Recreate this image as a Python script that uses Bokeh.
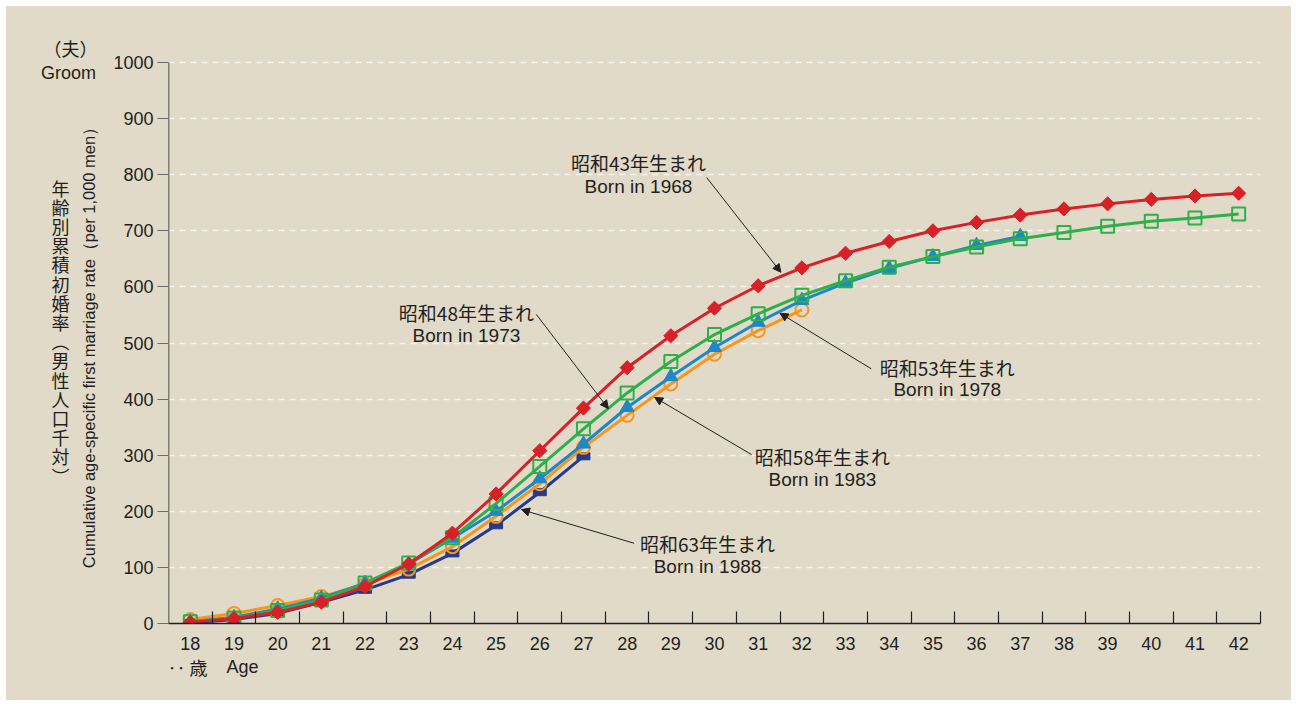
import math
from bokeh.plotting import figure
from bokeh.layouts import row, column
from bokeh.models import Range1d, FixedTicker, Label, Arrow, NormalHead, ColumnDataSource, Spacer
from bokeh.embed import file_html
from bokeh.resources import INLINE

# ---------------- data ----------------
ages = list(range(18, 43))
born_1968 = [2, 9, 20, 38, 66, 106, 161, 231, 308, 384, 456, 513, 562, 602, 634,
             660, 681, 700, 715, 728, 739, 748, 756, 762, 767]
born_1973 = [3, 10, 23, 42, 72, 108, 153, 214, 280, 347, 411, 467, 515, 552, 585,
             611, 635, 654, 671, 686, 697, 708, 717, 723, 730]
born_1978 = [3, 11, 26, 45, 72, 106, 152, 200, 258, 320, 385, 440, 492, 537, 576,
             607, 633, 654, 674, 690]
born_1983 = [7, 18, 32, 48, 70, 97, 137, 191, 249, 314, 371, 427, 480, 522, 559]
born_1988 = [1, 7, 18, 38, 60, 87, 125, 175, 234, 298]

y_ticks = list(range(0, 1001, 100))
x_tick_labels = [str(a) for a in ages]

BG = "#E1DAC8"
INK = "#231F20"
JP = "Noto Sans CJK JP"
EN = "Liberation Sans"

# ---------------- layout sizes (page px) ----------------
TOP_PAD = 24          # canvas top -> frame top
FRAME_H = 593         # frame spans 1000 units over 561 px, plus headroom
BOT_PAD = 32
MAIN_H = TOP_PAD + FRAME_H + BOT_PAD
LEFT_W = 104
Y_TOP = 1000 * FRAME_H / 561.0

p = figure(width=1180, height=MAIN_H, frame_width=1092, frame_height=FRAME_H,
           min_border_left=57, min_border_top=TOP_PAD, min_border_right=31, min_border_bottom=BOT_PAD,
           x_range=Range1d(17.5, 42.5), y_range=Range1d(0, Y_TOP),
           output_backend="svg", toolbar_location=None)
p.background_fill_color = None
p.border_fill_color = BG
p.outline_line_color = None

p.xaxis.ticker = FixedTicker(ticks=ages, minor_ticks=[a + 0.5 for a in ages])
p.xaxis.major_label_overrides = {a: s for a, s in zip(ages, x_tick_labels)}
p.xaxis.major_tick_in = 0
p.xaxis.major_tick_out = 0
p.xaxis.minor_tick_in = 12
p.xaxis.minor_tick_out = 0
p.xaxis.minor_tick_line_color = INK
p.xaxis.minor_tick_line_width = 1.2
p.xaxis.axis_line_color = INK
p.xaxis.axis_line_width = 1.5
p.xaxis.major_label_text_font = EN
p.xaxis.major_label_text_font_size = "18px"
p.xaxis.major_label_text_color = INK
p.xaxis.major_label_standoff = 13

p.yaxis.ticker = FixedTicker(ticks=y_ticks)
p.yaxis.major_tick_in = 0
p.yaxis.major_tick_out = 11
p.yaxis.major_tick_line_color = "#6b6b6b"
p.yaxis.major_tick_line_width = 1.2
p.yaxis.minor_tick_line_color = None
p.yaxis.axis_line_color = None
p.yaxis.major_label_text_font = EN
p.yaxis.major_label_text_font_size = "18px"
p.yaxis.major_label_text_color = INK
p.yaxis.major_label_standoff = 4

p.xgrid.grid_line_color = None
p.ygrid.ticker = FixedTicker(ticks=y_ticks[1:])
p.ygrid.grid_line_color = "#F7F4EC"
p.ygrid.grid_line_dash = "6 5"
p.ygrid.grid_line_width = 1.5

# y axis line: only from 0 to the top tick
p.segment(x0=[17.5], y0=[y_ticks[0]], x1=[17.5], y1=[y_ticks[-1]], line_color=INK, line_width=1.5)

NAVY = "#27398D"
ORANGE = "#F7961D"
BLUE = "#1E87CA"
GREEN = "#2DAF4A"
RED = "#D91F27"

def src(vals):
    return ColumnDataSource(dict(x=ages[:len(vals)], y=vals))

s88 = src(born_1988)
p.line("x", "y", source=s88, line_color=NAVY, line_width=3)
p.rect("x", "y", source=s88, width=13, height=7, width_units="screen", height_units="screen",
       fill_color=NAVY, line_color=NAVY)

s83 = src(born_1983)
p.line("x", "y", source=s83, line_color=ORANGE, line_width=3)
p.scatter("x", "y", source=s83, marker="circle", size=13, fill_color=None,
          line_color=ORANGE, line_width=2)

s78 = src(born_1978)
p.line("x", "y", source=s78, line_color=BLUE, line_width=3)
p.scatter("x", "y", source=s78, marker="triangle", size=14, fill_color=BLUE,
          line_color=BLUE, line_width=1)

s73 = src(born_1973)
p.line("x", "y", source=s73, line_color=GREEN, line_width=3)
p.scatter("x", "y", source=s73, marker="square", size=13, fill_color=None,
          line_color=GREEN, line_width=2)

s68 = src(born_1968)
p.line("x", "y", source=s68, line_color=RED, line_width=3)
p.scatter("x", "y", source=s68, marker="square", size=10, angle=math.pi / 4,
          fill_color=RED, line_color=RED, line_width=1)

def lab(fig, x, y, text, font, size="19px", align="center", angle=0.0):
    fig.add_layout(Label(x=x, y=y, text=text, text_font=font, text_font_size=size,
                         text_color=INK, text_align=align, text_baseline="middle",
                         angle=angle))

def arrow(x0, y0, x1, y1):
    p.add_layout(Arrow(end=NormalHead(size=8, fill_color=INK, line_color=INK, line_width=1),
                       x_start=x0, y_start=y0, x_end=x1, y_end=y1,
                       line_color=INK, line_width=1))

notes = [
    (28.26, 822, 779, "昭和43年生まれ", "Born in 1968", 29.82, 795, 31.52, 626),
    (24.32, 554, 513, "昭和48年生まれ", "Born in 1973", 25.92, 551, 27.57, 383),
    (35.33, 457, 417, "昭和53年生まれ", "Born in 1978", 33.59, 454, 31.50, 553),
    (32.47, 298, 256, "昭和58年生まれ", "Born in 1983", 30.85, 301, 28.63, 403),
    (29.84, 143, 102, "昭和63年生まれ", "Born in 1988", 28.16, 143, 25.58, 203),
]
for tx, jy, ey, jt, et, ax0, ay0, ax1, ay1 in notes:
    lab(p, tx, jy, jt, JP)
    lab(p, tx, ey, et, EN)
    arrow(ax0, ay0, ax1, ay1)

# ---------------- left title strip (coordinates = page px) ----------------
FRAME_TOP_PAGE = 6 + TOP_PAD
FRAME_BOT_PAGE = FRAME_TOP_PAGE + FRAME_H
left = figure(width=LEFT_W, height=MAIN_H, frame_width=LEFT_W, frame_height=FRAME_H,
              min_border_left=0, min_border_right=0, min_border_top=TOP_PAD, min_border_bottom=BOT_PAD,
              x_range=Range1d(6, 6 + LEFT_W), y_range=Range1d(FRAME_BOT_PAGE, FRAME_TOP_PAGE),
              x_axis_type=None, y_axis_type=None,
              output_backend="svg", toolbar_location=None)
left.background_fill_color = None
left.border_fill_color = BG
left.outline_line_color = None
left.grid.grid_line_color = None

lab(left, 70, 47, "（夫）", JP, size="18px")
lab(left, 68, 72, "Groom", EN, size="18px")
vertical_title = "年齢別累積初婚率︵男性人口千対︶"
for i, ch in enumerate(vertical_title):
    lab(left, 60, 187 + i * 19.2, ch, JP, size="18px")
lab(left, 88, 343, "Cumulative age-specific first marriage rate（per 1,000 men）", EN,
    size="16.5px", angle=math.pi / 2)

# ---------------- bottom title strip (coordinates = page px) ----------------
BOT_W = LEFT_W + 1180
BOT_H = 45
B_TOP = 6 + MAIN_H
bottom = figure(width=BOT_W, height=BOT_H, x_range=Range1d(6, 6 + BOT_W),
                y_range=Range1d(B_TOP + BOT_H, B_TOP),
                min_border=0, x_axis_type=None, y_axis_type=None,
                output_backend="svg", toolbar_location=None)
bottom.background_fill_color = None
bottom.border_fill_color = BG
bottom.outline_line_color = None
bottom.grid.grid_line_color = None
lab(bottom, 176, 666, "‥", JP, size="18px")
lab(bottom, 198, 666, "歳", JP, size="18px")
lab(bottom, 226, 666, "Age", EN, size="18px", align="left")

inner = column(row(left, p), bottom)
inner.styles = {"background-color": BG}
layout = column(Spacer(height=6), row(Spacer(width=6), inner))

open("out.html", "w").write(file_html(layout, INLINE))
